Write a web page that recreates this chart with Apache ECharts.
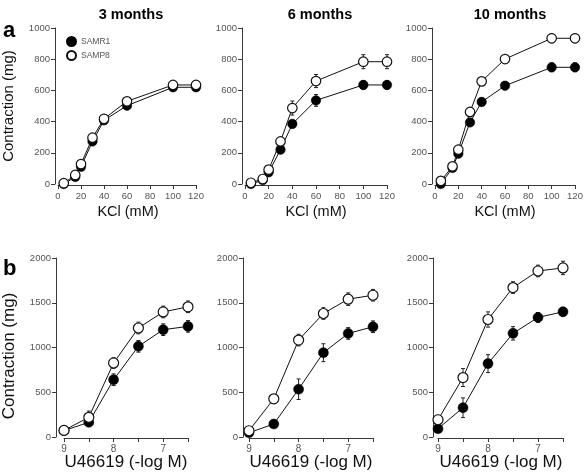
<!DOCTYPE html>
<html><head><meta charset="utf-8">
<script src="https://cdn.jsdelivr.net/npm/echarts@6/dist/echarts.min.js"></script>
<style>html,body{margin:0;padding:0;background:#fff}#c{width:586px;height:474px}</style>
</head><body><div id="c"></div>
<script>
// ---- data ----
var kcl = [5, 15, 20, 30, 40, 60, 100, 120];
var logM = [9, 8.5, 8, 7.5, 7, 6.5];

var kcl3_samr1 = [0, 45, 110, 273, 408, 502, 620, 620];
var kcl3_samp8 = [5, 58, 128, 297, 418, 530, 635, 635];
var kcl3_err_r1 = [5, 10, 10, 15, 15, 15, 15, 15];
var kcl3_err_p8 = [5, 10, 10, 15, 15, 15, 15, 15];

var kcl6_samr1 = [0, 25, 75, 220, 385, 536, 635, 635];
var kcl6_samp8 = [8, 32, 92, 273, 487, 660, 784, 784];
var kcl6_err_r1 = [5, 10, 10, 20, 25, 38, 28, 28];
var kcl6_err_p8 = [5, 10, 15, 20, 45, 42, 45, 45];

var kcl10_samr1 = [0, 103, 194, 395, 526, 630, 748, 748];
var kcl10_samp8 = [20, 113, 220, 462, 658, 801, 934, 934];
var kcl10_err_r1 = [5, 10, 15, 20, 25, 25, 28, 28];
var kcl10_err_p8 = [5, 15, 15, 20, 20, 20, 28, 28];

var u3_samr1 = [71, 164, 640, 1013, 1199, 1236];
var u3_samp8 = [74, 220, 827, 1218, 1397, 1455];
var u3_err_r1 = [20, 30, 65, 65, 65, 65];
var u3_err_p8 = [20, 70, 60, 65, 65, 65];

var u6_samr1 = [48, 145, 534, 942, 1157, 1232];
var u6_samp8 = [70, 427, 1083, 1380, 1540, 1584];
var u6_err_r1 = [20, 30, 115, 100, 65, 65];
var u6_err_p8 = [20, 45, 65, 65, 70, 65];

var u10_samr1 = [93, 327, 820, 1158, 1336, 1399];
var u10_samp8 = [193, 664, 1313, 1670, 1855, 1889];
var u10_err_r1 = [30, 110, 100, 75, 55, 50];
var u10_err_p8 = [50, 100, 85, 65, 65, 75];

var panelTitles = ['3 months', '6 months', '10 months'];
var seriesNames = ['SAMR1', 'SAMP8'];

// ---- layout ----
var FONT = 'Liberation Sans, Arial, Helvetica, sans-serif';
var AX = '#3a3a3a', LBL = '#555555';
var grids = [
  {left: 58, top: 28, width: 138, height: 156},
  {left: 245, top: 28, width: 142, height: 156},
  {left: 435, top: 28, width: 140, height: 156},
  {left: 64, top: 258, width: 124, height: 179},
  {left: 249, top: 258, width: 124, height: 179},
  {left: 438, top: 258, width: 125, height: 179}
];
var yOffsets = [3, 3, 3, 8, 6, 5];

var xAxes = [], yAxes = [], series = [];
function axisCommon() {
  return {
    axisLine: {show: true, onZero: false, lineStyle: {color: AX, width: 1}},
    axisTick: {show: true, inside: false, length: 4, lineStyle: {color: AX, width: 1}},
    splitLine: {show: false}
  };
}
function plainNum(v) { return String(v); }
for (var i = 0; i < 6; i++) {
  var isTop = i < 3;
  var xa = axisCommon();
  xa.gridIndex = i; xa.type = 'value';
  if (isTop) {
    xa.min = 0; xa.max = 120; xa.interval = 20; xa.offset = 1;
    xa.axisLabel = {color: LBL, fontSize: 9.5, fontFamily: FONT, margin: 6, formatter: plainNum};
  } else {
    xa.min = 6.5; xa.max = 9; xa.interval = 0.5; xa.inverse = true; xa.offset = 1;
    xa.axisLabel = {color: LBL, fontSize: 10, fontFamily: FONT, margin: 6,
      showMinLabel: true, showMaxLabel: true,
      formatter: function (v) { return Math.abs(v - Math.round(v)) < 1e-6 ? String(Math.round(v)) : ''; }};
  }
  xAxes.push(xa);
  var ya = axisCommon();
  ya.gridIndex = i; ya.type = 'value'; ya.offset = yOffsets[i];
  ya.min = 0; ya.max = isTop ? 1000 : 2000; ya.interval = isTop ? 200 : 500;
  ya.axisLabel = {color: LBL, fontSize: 9.5, fontFamily: FONT, margin: 5, formatter: plainNum};
  yAxes.push(ya);
}

function pairs(xs, ys) { return xs.map(function (x, k) { return [x, ys[k]]; }); }
function triples(xs, ys, es) { return xs.map(function (x, k) { return [x, ys[k], es[k]]; }); }

function errSeries(idx, xs, ys, es) {
  return {
    type: 'custom', name: 'err', xAxisIndex: idx, yAxisIndex: idx, z: 1, silent: true,
    data: triples(xs, ys, es),
    encode: {x: 0, y: 1},
    renderItem: function (params, api) {
      var x = api.value(0), y = api.value(1), e = api.value(2);
      var p1 = api.coord([x, y + e]), p2 = api.coord([x, y - e]);
      var w = 2;
      var st = {stroke: '#222', lineWidth: 1, fill: null};
      return {type: 'group', children: [
        {type: 'line', shape: {x1: p1[0], y1: p1[1], x2: p2[0], y2: p2[1]}, style: st},
        {type: 'line', shape: {x1: p1[0] - w, y1: p1[1], x2: p1[0] + w, y2: p1[1]}, style: st},
        {type: 'line', shape: {x1: p2[0] - w, y1: p2[1], x2: p2[0] + w, y2: p2[1]}, style: st}
      ]};
    }
  };
}
function lineSeries(idx, name, xs, ys, open) {
  return {
    type: 'line', name: name, xAxisIndex: idx, yAxisIndex: idx, z: open ? 4 : 3,
    data: pairs(xs, ys), symbol: 'circle', symbolSize: idx < 3 ? 9.5 : 10, showSymbol: true,
    lineStyle: {color: '#111', width: 1},
    itemStyle: open ? {color: '#fff', borderColor: '#111', borderWidth: 1.2} : {color: '#000', borderColor: '#000', borderWidth: 0.5},
    emphasis: {disabled: true}
  };
}

var panelData = [
  [kcl, kcl3_samr1, kcl3_samp8, kcl3_err_r1, kcl3_err_p8],
  [kcl, kcl6_samr1, kcl6_samp8, kcl6_err_r1, kcl6_err_p8],
  [kcl, kcl10_samr1, kcl10_samp8, kcl10_err_r1, kcl10_err_p8],
  [logM, u3_samr1, u3_samp8, u3_err_r1, u3_err_p8],
  [logM, u6_samr1, u6_samp8, u6_err_r1, u6_err_p8],
  [logM, u10_samr1, u10_samp8, u10_err_r1, u10_err_p8]
];
panelData.forEach(function (d, idx) {
  series.push(errSeries(idx, d[0], d[1], d[3]));
  series.push(errSeries(idx, d[0], d[2], d[4]));
  series.push(lineSeries(idx, seriesNames[0], d[0], d[1], false));
  series.push(lineSeries(idx, seriesNames[1], d[0], d[2], true));
});

var titleX = [131, 320, 510];
var graphics = [
  {type: 'text', x: 3, y: 20, style: {text: 'a', font: 'bold 22px ' + FONT, fill: '#000', align: 'left', verticalAlign: 'alphabetic'}},
  {type: 'text', x: 3, y: 258, style: {text: 'b', font: 'bold 22px ' + FONT, fill: '#000', align: 'left', verticalAlign: 'alphabetic'}}
];
panelTitles.forEach(function (t, k) {
  graphics.push({type: 'text', x: titleX[k], y: 15, style: {text: t, font: 'bold 14.5px ' + FONT, fill: '#000', align: 'center', verticalAlign: 'middle'}});
});
graphics.push({type: 'text', x: 9, y: 106, rotation: Math.PI / 2, style: {text: 'Contraction (mg)', font: '15px ' + FONT, fill: '#111', align: 'center', verticalAlign: 'middle'}});
graphics.push({type: 'text', x: 9, y: 356, rotation: Math.PI / 2, style: {text: 'Contraction (mg)', font: '17px ' + FONT, fill: '#111', align: 'center', verticalAlign: 'middle'}});
[128, 316, 505].forEach(function (cx) {
  graphics.push({type: 'text', x: cx, y: 212, style: {text: 'KCl (mM)', font: '14.5px ' + FONT, fill: '#111', align: 'center', verticalAlign: 'middle'}});
});
[126, 311, 501].forEach(function (cx) {
  graphics.push({type: 'text', x: cx, y: 462, style: {text: 'U46619 (-log M)', font: '17px ' + FONT, fill: '#111', align: 'center', verticalAlign: 'middle'}});
});

var option = {
  animation: false,
  backgroundColor: '#fff',
  grid: grids,
  xAxis: xAxes,
  yAxis: yAxes,
  series: series,
  legend: {
    data: [{name: 'SAMR1', icon: 'circle'}, {name: 'SAMP8', icon: 'circle'}],
    left: 66, top: 36, orient: 'vertical', itemWidth: 9, itemHeight: 9, itemGap: 3,
    selectedMode: false, padding: 0,
    textStyle: {fontSize: 8.5, color: LBL, fontFamily: FONT}
  },
  graphic: graphics
};
var chart = echarts.init(document.getElementById('c'), null, {renderer: 'canvas'});
chart.setOption(option);
</script>
</body></html>
